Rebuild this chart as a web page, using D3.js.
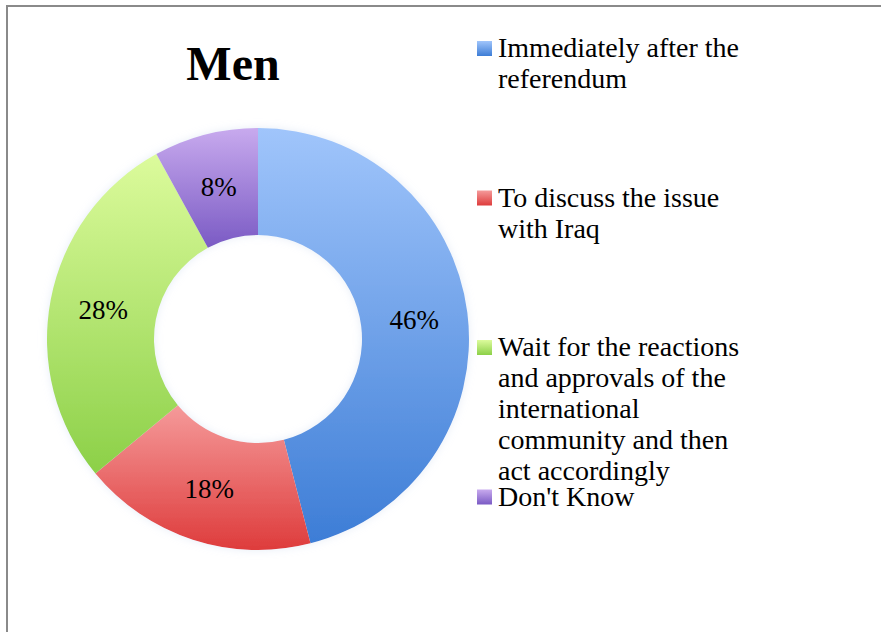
<!DOCTYPE html>
<html>
<head>
<meta charset="utf-8">
<script src="https://cdn.jsdelivr.net/npm/d3@7"></script>
<style>
  html, body { margin: 0; padding: 0; background: #fff; }
  svg { display: block; }
</style>
</head>
<body>
<svg id="chart" width="881" height="632"></svg>
<script>
// ---- data ----
const title = "Men";
const categories = [
  "Immediately after the\nreferendum",
  "To discuss the issue\nwith Iraq",
  "Wait for the reactions\nand approvals of the\ninternational\ncommunity and then\nact accordingly",
  "Don't Know"
];
const values = [46, 18, 28, 8];
const valueLabels = ["46%", "18%", "28%", "8%"];
const colorsTop = ["#a0c5fb", "#f59a9a", "#dcfb9c", "#c8aaee"];
const colorsBottom = ["#3d7dd6", "#de3c3c", "#8cd048", "#7a5ac4"];

// ---- layout ----
const W = 881, H = 632;
const cx = 258, cy = 339, R = 211, r = 104;
const svg = d3.select("#chart");
const defs = svg.append("defs");

// border
svg.append("path")
  .attr("d", `M7,${H} L7,6 L${W},6`)
  .attr("fill", "none").attr("stroke", "#8a8a8a").attr("stroke-width", 2);

// gradients
categories.forEach((c, i) => {
  const g = defs.append("linearGradient").attr("id", "grad" + i)
    .attr("x1", 0).attr("y1", 0).attr("x2", 0).attr("y2", 1);
  g.append("stop").attr("offset", "0%").attr("stop-color", colorsTop[i]);
  g.append("stop").attr("offset", "100%").attr("stop-color", colorsBottom[i]);
});

// soft glow
const f = defs.append("filter").attr("id", "glow")
  .attr("x", "-10%").attr("y", "-10%").attr("width", "120%").attr("height", "120%");
f.append("feGaussianBlur").attr("in", "SourceAlpha").attr("stdDeviation", 4).attr("result", "b");
f.append("feFlood").attr("flood-color", "#b8cde8").attr("flood-opacity", 0.35).attr("result", "c");
f.append("feComposite").attr("in", "c").attr("in2", "b").attr("operator", "in").attr("result", "s");
const fm = f.append("feMerge");
fm.append("feMergeNode").attr("in", "s");
fm.append("feMergeNode").attr("in", "SourceGraphic");

// title
svg.append("text")
  .attr("x", 233).attr("y", 80)
  .attr("text-anchor", "middle")
  .style("font-family", "'Liberation Serif', serif")
  .style("font-weight", "bold")
  .style("font-size", "48px")
  .attr("fill", "#000")
  .text(title);

// donut
const pie = d3.pie().sort(null).value(d => d);
const arcs = pie(values);
const arc = d3.arc().innerRadius(r).outerRadius(R);
const labelArc = d3.arc().innerRadius((R + r) / 2).outerRadius((R + r) / 2);

const g = svg.append("g").attr("transform", `translate(${cx},${cy})`);
const ring = g.append("g").attr("filter", "url(#glow)");
ring.selectAll("path").data(arcs).join("path")
  .attr("d", arc)
  .attr("fill", (d, i) => `url(#grad${i})`);

g.selectAll("text.lbl").data(arcs).join("text")
  .attr("class", "lbl")
  .attr("transform", d => `translate(${labelArc.centroid(d)})`)
  .attr("text-anchor", "middle")
  .attr("dy", "0.35em")
  .style("font-family", "'Liberation Serif', serif")
  .style("font-size", "27px")
  .attr("fill", "#000")
  .text((d, i) => valueLabels[i]);

// legend
const legX = 477, legY0 = 41, legStep = 149.5, lineH = 31;
const leg = svg.append("g");
categories.forEach((c, i) => {
  const y = legY0 + i * legStep;
  leg.append("rect")
    .attr("x", legX).attr("y", y)
    .attr("width", 15).attr("height", 15)
    .attr("fill", `url(#grad${i})`);
  const t = leg.append("text")
    .attr("x", legX + 21).attr("y", y + 16)
    .style("font-family", "'Liberation Serif', serif")
    .style("font-size", "28px")
    .attr("fill", "#000");
  c.split("\n").forEach((ln, j) => {
    t.append("tspan").attr("x", legX + 21).attr("y", y + 16 + j * lineH).text(ln);
  });
});
</script>
</body>
</html>
